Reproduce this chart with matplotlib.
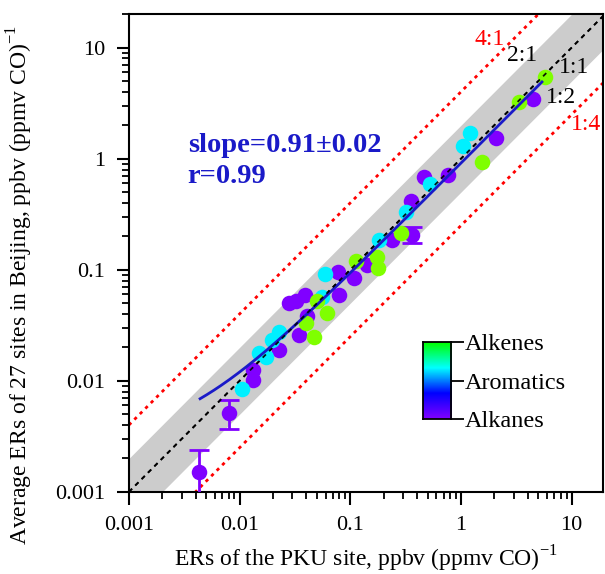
import numpy as np
import matplotlib
matplotlib.use("Agg")
import matplotlib.pyplot as plt
from matplotlib.colors import LinearSegmentedColormap

plt.rcParams['font.family'] = ['Liberation Serif', 'DejaVu Serif']
plt.rcParams['mathtext.fontset'] = 'custom'
plt.rcParams['mathtext.rm'] = 'Liberation Serif'

# ER values: x = PKU site, y = average of 27 sites
alkane_x = [0.00428, 0.00796, 0.0131, 0.0131, 0.0229, 0.0282, 0.0327, 0.0394, 0.0348,
            0.078, 0.0796, 0.109, 0.142, 0.041, 0.239, 0.362, 0.355, 0.464, 0.764, 2.07, 4.46]
alkane_y = [0.00151, 0.00515, 0.0126, 0.0102, 0.0190, 0.0505, 0.0526, 0.0596, 0.0259,
            0.096, 0.0596, 0.0847, 0.111, 0.0385, 0.186, 0.207, 0.419, 0.689, 0.718, 1.55, 3.47]
aromatic_x = [0.0106, 0.0151, 0.0175, 0.0198, 0.0229, 0.056, 0.0596, 0.182, 0.320, 0.526, 1.04, 1.21]
aromatic_y = [0.00847, 0.0179, 0.0164, 0.0234, 0.0276, 0.0571, 0.092, 0.186, 0.333, 0.596, 1.31, 1.71]
alkene_x = [0.0402, 0.0475, 0.0505, 0.0621, 0.113, 0.175, 0.179, 0.288, 1.55, 3.33, 5.71]
alkene_y = [0.0333, 0.0249, 0.0526, 0.041, 0.120, 0.131, 0.104, 0.215, 0.94, 3.27, 5.48]

# error bars (alkanes only)
err_x = [0.00428, 0.00796, 0.362]
err_y = [0.00151, 0.00515, 0.207]
err_lo = [0.0008, 0.0037, 0.175]
err_hi = [0.00239, 0.00675, 0.244]

# linear fit
slope, intercept = 0.91, 0.0029
fit_xmin, fit_xmax = 0.0044, 5.4

c_alkane = '#8000ff'
c_arom = '#00f0ff'
c_alkene = '#7fff00'
c_fit = '#1a1ac8'

fig = plt.figure(figsize=(6.05, 5.74), dpi=100)
ax = fig.add_axes([0.213, 0.143, 0.784, 0.833])

xlim = (0.001, 19.3)
ylim = (0.001, 20.2)
xx = np.logspace(np.log10(xlim[0]), np.log10(xlim[1]), 200)

# 1:2 - 2:1 band
ax.fill_between(xx, xx * 0.5, xx * 2, color='#cccccc', lw=0, zorder=1)
ax.plot(xx, xx * 4, color='red', lw=2, ls=(0, (1.2, 1.6)), zorder=2)
ax.plot(xx, xx / 4, color='red', lw=2, ls=(0, (1.2, 1.6)), zorder=2)
ax.plot(xx, xx, color='black', lw=1.3, ls=(0, (2.5, 2.5)), zorder=2)

# error bars
yerr = [np.array(err_y) - np.array(err_lo), np.array(err_hi) - np.array(err_y)]
ax.errorbar(err_x, err_y, yerr=yerr, fmt='none', ecolor=c_alkane, elinewidth=2,
            capsize=7, capthick=2, zorder=3)

ax.scatter(alkane_x, alkane_y, s=125, color=c_alkane, lw=0, zorder=4)
ax.scatter(aromatic_x, aromatic_y, s=125, color=c_arom, lw=0, zorder=4)
ax.scatter(alkene_x, alkene_y, s=125, color=c_alkene, lw=0, zorder=4)

fx = np.logspace(np.log10(fit_xmin), np.log10(fit_xmax), 200)
ax.plot(fx, slope * fx + intercept, color=c_fit, lw=2, zorder=5)
ax.plot(xx, xx, color='black', lw=1.3, ls=(0, (2.5, 2.5)), zorder=5, alpha=0.9)

ax.set_xscale('log')
ax.set_yscale('log')
ax.set_xlim(*xlim)
ax.set_ylim(*ylim)
ax.set_xticks([0.001, 0.01, 0.1, 1, 10])
ax.set_xticklabels(['0.001', '0.01', '0.1', '1', '10'])
ax.set_yticks([0.001, 0.01, 0.1, 1, 10])
ax.set_yticklabels(['0.001', '0.01', '0.1', '1', '10'])
ax.tick_params(which='major', direction='out', length=9, width=1.5, labelsize=16, pad=8)
ax.tick_params(which='minor', direction='out', length=5, width=1.3)
for sp in ax.spines.values():
    sp.set_linewidth(1.5)

ax.set_xlabel('ERs of the PKU site, ppbv (ppmv CO)$^{-1}$', fontsize=17)
ax.set_ylabel('Average ERs of 27 sites in Beijing, ppbv (ppmv CO)$^{-1}$', fontsize=17)
ax.yaxis.set_label_coords(-0.198, 0.433)
ax.xaxis.set_label_coords(0.5, -0.108)

# ratio labels
ax.text(1.82, 11.8, '4:1', color='red', fontsize=17, ha='center', va='center')
ax.text(3.55, 8.5, '2:1', color='black', fontsize=17, ha='center', va='center')
ax.text(10.6, 6.6, '1:1', color='black', fontsize=17, ha='center', va='center')
ax.text(8.1, 3.55, '1:2', color='black', fontsize=17, ha='center', va='center')
ax.text(13.6, 2.02, '1:4', color='red', fontsize=17, ha='center', va='center')

ax.text(0.124, 0.711, 'slope=0.91\u00b10.02', transform=ax.transAxes, color=c_fit,
        fontsize=20.5, fontweight='bold', va='baseline')
ax.text(0.124, 0.646, 'r=0.99', transform=ax.transAxes, color=c_fit,
        fontsize=20.5, fontweight='bold', va='baseline')

# colour bar legend
cmap = LinearSegmentedColormap.from_list('grp', ['#8000ff', '#0000ff', '#00ffff', '#00ff00'])
cax = fig.add_axes([0.699, 0.270, 0.0463, 0.134])
cax.imshow(np.linspace(0, 1, 100)[:, None], aspect='auto', cmap=cmap, origin='lower',
           extent=[0, 1, 0, 1])
cax.set_xticks([])
cax.yaxis.tick_right()
cax.set_yticks([0.0, 0.5, 1.0])
cax.set_yticklabels(['Alkanes', 'Aromatics', 'Alkenes'])
cax.tick_params(axis='y', direction='out', length=9, width=1.3, labelsize=17.5, pad=1)
for sp in cax.spines.values():
    sp.set_linewidth(1.3)

fig.savefig('out.png', dpi=100)
